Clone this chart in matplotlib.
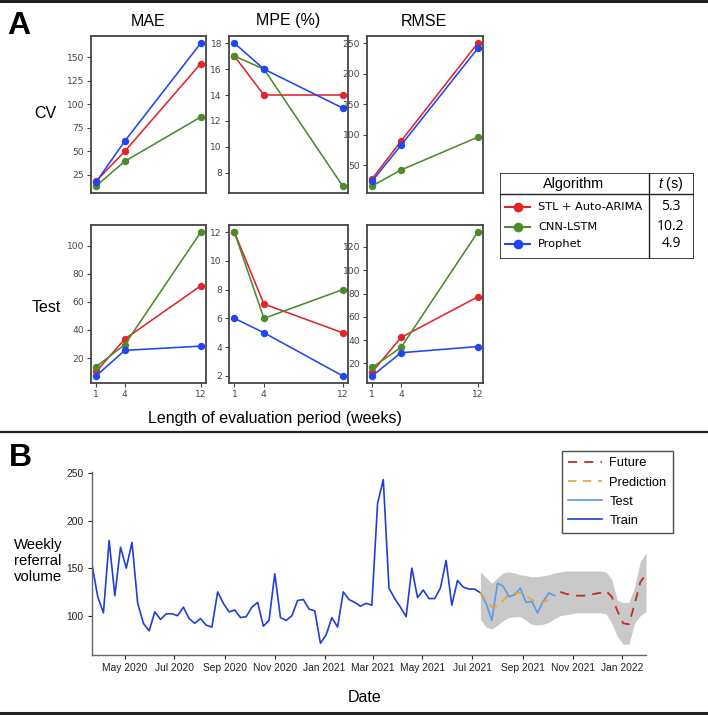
import numpy as np
import pandas as pd
import matplotlib
matplotlib.use("Agg")
import matplotlib.pyplot as plt
import matplotlib.dates as mdates
from matplotlib.lines import Line2D
from matplotlib.ticker import MultipleLocator

plt.rcParams["mathtext.fontset"] = "custom"
plt.rcParams["mathtext.it"] = "Liberation Sans:italic"
plt.rcParams["mathtext.rm"] = "Liberation Sans"

W, H = 708, 715

# ---------- panel A data ----------
weeks = [1, 4, 12]
algos = ["STL + Auto-ARIMA", "CNN-LSTM", "Prophet"]
algo_times = ["5.3", "10.2", "4.9"]
algo_colors = ["#e3242b", "#4b8b2b", "#1f45f5"]

cv_mae = [[18.7, 50, 143.3], [13.4, 39.4, 86.6], [17.6, 60.9, 165]]
cv_mpe = [[17, 14, 14], [17, 16, 7], [18, 16, 13]]
cv_rmse = [[28.3, 89.7, 250.5], [16.3, 42.4, 96.2], [24.5, 83, 241.8]]
test_mae = [[10.5, 33.5, 71.4], [14, 29.5, 109.5], [7.4, 25.5, 28.5]]
test_mpe = [[12, 7, 5], [12, 6, 8], [6, 5, 2]]
test_rmse = [[12.8, 42.3, 77.1], [16.7, 33.7, 132.6], [9.4, 29.2, 34.5]]

# ---------- panel B data ----------
start_date = "2020-03-22"
train = [154, 120, 103, 179, 121, 172, 150, 177, 113, 92, 84, 104, 96, 102, 102, 100,
         109, 97, 92, 97, 90, 88, 125, 113, 104, 106, 98, 99, 109, 114, 89, 95, 144,
         98, 95, 100, 116, 117, 107, 105, 71, 80, 98, 88, 125, 117, 114, 110, 113, 111,
         218, 243, 129, 118, 109, 99, 150, 119, 127, 118, 118, 129, 158, 111, 137, 130,
         128, 128, 124]
test = [124, 113, 95, 134, 131, 120, 122, 129, 114, 115, 103, 115, 124, 121]
prediction = [124, 116, 109, 110, 116, 122, 124, 124, 121, 117, 114, 114, 117, 120]
future = [125, 123, 122, 121, 121, 122, 123, 124, 126, 120, 105, 92, 91, 112, 135, 144]
band_upper = [146, 140, 134, 140, 145, 146, 145, 143, 142, 141, 141, 142, 143, 145, 146,
              147, 147, 147, 147, 147, 147, 147, 146, 138, 116, 114, 114, 130, 157, 166]
band_lower = [96, 88, 86, 90, 95, 98, 99, 99, 95, 91, 90, 91, 93, 97, 100,
              101, 102, 103, 103, 103, 103, 103, 102, 92, 78, 70, 70, 92, 100, 104]


def px(l, t, r, b):
    return [l / W, 1 - b / H, (r - l) / W, (b - t) / H]


fig = plt.figure(figsize=(W / 100, H / 100), dpi=100)

# separator lines
for yy, lw in [(1, 2.2), (432, 1.6), (713, 2.2)]:
    fig.add_artist(Line2D([0, 1], [1 - yy / H, 1 - yy / H], transform=fig.transFigure,
                          color="#222222", lw=lw))

title_font = dict(family="Liberation Sans", fontsize=11.5)

# ---------- panel A ----------
cols = [(91, 206), (229, 348), (367, 483)]
rows = [(36, 193), (225, 383)]
grid = [[cv_mae, cv_mpe, cv_rmse], [test_mae, test_mpe, test_rmse]]
steps = [[25, 2, 50], [20, 2, 20]]

for r, (top, bot) in enumerate(rows):
    for c, (left, right) in enumerate(cols):
        ax = fig.add_axes(px(left, top, right, bot))
        for vals, col in zip(grid[r][c], algo_colors):
            ax.plot(weeks, vals, color=col, lw=1.15, marker="o", ms=4.3)
        ax.yaxis.set_major_locator(MultipleLocator(steps[r][c]))
        ax.set_xticks(weeks)
        for sp in ax.spines.values():
            sp.set_color("#444444")
            sp.set_linewidth(1.3)
        ax.tick_params(labelsize=6.6, colors="#444444", length=3, width=0.8, pad=2)
        if r == 0:
            ax.tick_params(bottom=False, labelbottom=False)

fig.text(148 / W, 1 - 21 / H, "MAE", ha="center", va="center", **title_font)
fig.text(288 / W, 1 - 21 / H, "MPE (%)", ha="center", va="center", **title_font)
fig.text(424 / W, 1 - 21 / H, "RMSE", ha="center", va="center", **title_font)
fig.text(45 / W, 1 - 114 / H, "CV", ha="center", va="center", **title_font)
fig.text(46 / W, 1 - 307 / H, "Test", ha="center", va="center", **title_font)
fig.text(275 / W, 1 - 418 / H, "Length of evaluation period (weeks)", ha="center",
         va="center", **title_font)
fig.text(7 / W, 1 - 26 / H, "A", ha="left", va="center", fontsize=23, fontweight="bold",
         family="Liberation Sans")

# table
tb = fig.add_axes(px(500, 173, 694, 259))
tb.set_xlim(500, 694)
tb.set_ylim(259, 173)
tb.axis("off")
tb.add_patch(plt.Rectangle((500, 173), 194, 86, fill=False, ec="#222222", lw=1.2))
tb.plot([500, 694], [194, 194], color="#222222", lw=1.0)
tb.plot([649, 649], [173, 259], color="#222222", lw=1.0)
tb.text(574, 184, "Algorithm", ha="center", va="center", family="Liberation Sans",
        fontsize=10.4)
tb.text(671, 184, "$t$ (s)", ha="center", va="center", family="Liberation Sans",
        fontsize=10.4)
row_y = [207, 227, 244]
for name, t, col, yy in zip(algos, algo_times, algo_colors, row_y):
    tb.plot([505, 530], [yy, yy], color=col, lw=1.5)
    tb.plot([517.5], [yy], color=col, marker="o", ms=6)
    tb.text(538, yy, name, ha="left", va="center", fontsize=8.2)
    tb.text(671, yy, t, ha="center", va="center", family="Open Sans", fontsize=10)

# ---------- panel B ----------
n_tr = len(train)
n_dates = n_tr - 1 + len(test) + len(future)
dates = pd.date_range(start_date, periods=n_dates, freq="7D")
d_train = dates[:n_tr]
d_test = dates[n_tr - 1:n_tr - 1 + len(test)]
d_future = dates[n_tr - 1 + len(test):]
d_band = dates[n_tr - 1:n_tr - 1 + len(band_upper)]

axb = fig.add_axes(px(92, 472, 646, 655))
axb.fill_between(d_band, band_lower, band_upper, color="#c9c9c9", lw=0)
l_train, = axb.plot(d_train, train, color="#1f3fd6", lw=1.2, label="Train")
l_test, = axb.plot(d_test, test, color="#5b9be6", lw=1.2, label="Test")
l_pred, = axb.plot(d_test, prediction, color="#e6a23c", lw=1.2, ls=(0, (5, 4)),
                   label="Prediction")
l_fut, = axb.plot(d_future, future, color="#c42b2b", lw=1.3, ls=(0, (5, 4)), label="Future")
axb.set_xlim(dates[0], dates[-1])
axb.set_ylim(58.7, 251)
axb.set_yticks([100, 150, 200, 250])
axb.xaxis.set_major_locator(mdates.MonthLocator(bymonth=[1, 3, 5, 7, 9, 11]))
axb.xaxis.set_major_formatter(mdates.DateFormatter("%b %Y"))
for s in ["top", "right"]:
    axb.spines[s].set_visible(False)
for s in ["left", "bottom"]:
    axb.spines[s].set_color("#666666")
    axb.spines[s].set_linewidth(1.0)
axb.tick_params(length=3, width=0.8, colors="#222222", labelsize=7.4, pad=3)
for lab in axb.get_xticklabels() + axb.get_yticklabels():
    lab.set_family("Liberation Sans")

leg = axb.legend(handles=[l_fut, l_pred, l_test, l_train], loc="upper left",
                 bbox_to_anchor=(561.7 / W, 1 - 451 / H), bbox_transform=fig.transFigure,
                 prop=dict(family="Liberation Sans", size=9.3), frameon=True,
                 fancybox=False, handlelength=2.6, handletextpad=0.6,
                 labelspacing=0.55, borderpad=0.5, borderaxespad=0)
leg.get_frame().set_edgecolor("#222222")
leg.get_frame().set_linewidth(1.0)

fig.text(14 / W, 1 - 561 / H, "Weekly\nreferral\nvolume", ha="left", va="center",
         family="Liberation Sans", fontsize=10.7, linespacing=1.2)
fig.text(365 / W, 1 - 697 / H, "Date", ha="center", va="center", **title_font)
fig.text(9 / W, 1 - 458 / H, "B", ha="left", va="center", fontsize=23, fontweight="bold",
         family="Liberation Sans")

fig.savefig("out.png", dpi=100)
